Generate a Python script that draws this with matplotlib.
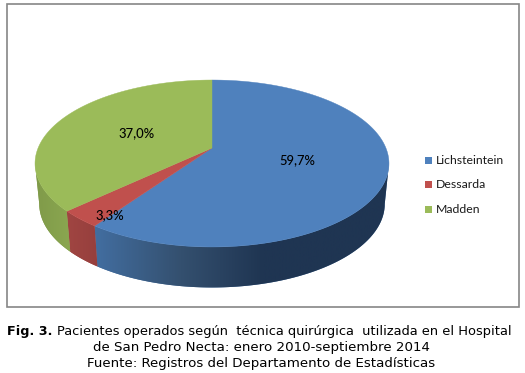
import numpy as np
import matplotlib
matplotlib.use('Agg')
import matplotlib.pyplot as plt
from matplotlib.colors import to_rgb
from matplotlib.patches import Polygon, Rectangle

categories = ['Lichsteintein', 'Dessarda', 'Madden']
values = [59.7, 3.3, 37.0]
value_labels = ['59,7%', '3,3%', '37,0%']
top_colors = ['#4F81BD', '#C0504D', '#9BBB59']
caption_lines = ['de San Pedro Necta: enero 2010-septiembre 2014',
                 'Fuente: Registros del Departamento de Estadísticas']

W, H = 525, 373
CX, CY = 212, 148   # where the slices meet, in picture pixels
A, B, K = 173.9, 80.6, 0.1856   # perspective of the disc
DEPTH, SHRINK = 40.5, 0.976


def rim(turn, r=1.0):
    # turn runs clockwise from 12 o'clock, 1 = full circle
    t = 2 * np.pi * np.asarray(turn)
    u, v = r * np.sin(t), -r * np.cos(t)
    d = 1 - K * v
    return CX + A * u / d, CY + B * v / d


fig = plt.figure(figsize=(W / 100, H / 100), dpi=100)
ax = fig.add_axes([0, 0, 1, 1])
ax.axis('off')

ax.add_patch(Rectangle((6.5, 3.5), 512, 303, fill=False, ec='#868686', lw=1.2))

fractions = np.array(values) / sum(values)
starts = np.concatenate([[0], np.cumsum(fractions)[:-1]])
ends = np.cumsum(fractions)

# side wall, only the part that faces the viewer
vis_right = np.arcsin(K) / (2 * np.pi) + 0.25
vis_left = 1 - vis_right
# (x, colour) stops of the shading along the wall
side_stops = [[(97, '#426D9F'), (180, '#34506F'), (262, '#1F3552'), (390, '#1F3552')],
              [(68, '#A04542'), (97, '#963F3D')],
              [(34, '#7F9A49'), (68, '#8AA650')]]
for i in range(len(values)):
    a, b = max(starts[i], vis_right), min(ends[i], vis_left)
    if b <= a:
        continue
    x, y = rim(np.linspace(a, b, 300))
    xb = CX + (x - CX) * SHRINK
    poly = Polygon(np.c_[np.r_[x, xb[::-1]], np.r_[y, y[::-1] + DEPTH]], closed=True,
                   transform=ax.transData, fc=side_stops[i][0][1], ec='none', zorder=2)
    ax.add_patch(poly)
    xs = [s[0] for s in side_stops[i]]
    rgb = np.array([to_rgb(s[1]) for s in side_stops[i]])
    x0, x1 = min(x.min(), xb.min()), max(x.max(), xb.max())
    grid = np.linspace(x0, x1, 400)
    band = np.stack([np.interp(grid, xs, rgb[:, c]) for c in range(3)], axis=1)[None, :, :]
    im = ax.imshow(band, extent=(x0, x1, H, 0), aspect='auto', zorder=2.5, interpolation='bilinear')
    im.set_clip_path(poly)

ax.set_xlim(0, W)
ax.set_ylim(H, 0)

# top of the disc
for i, c in enumerate(top_colors):
    x, y = rim(np.linspace(starts[i], ends[i], 300))
    ax.fill(np.r_[CX, x], np.r_[CY, y], color=c, lw=0.3, ec=c, zorder=3)

# value labels
label_font = ['Lato', 'DejaVu Sans']
lab_r = [0.5, 0.8, 0.49]
lab_dy = [0, 12, 0]
for i, lab in enumerate(value_labels):
    x, y = rim((starts[i] + ends[i]) / 2, lab_r[i])
    ax.text(x, y + lab_dy[i], lab, ha='center', va='center', fontsize=9.4, color='black',
            family=label_font, weight='medium', zorder=5)

# legend
for i, name in enumerate(categories):
    y = 160.7 + 24.2 * i
    ax.add_patch(Rectangle((425, y - 3.5), 7, 7, color=top_colors[i], lw=0, zorder=4))
    ax.text(436, y, name, va='center', ha='left', fontsize=8.8, family=label_font,
            color='#1a1a1a', zorder=5)

# caption
r = fig.canvas.get_renderer()
bold = ax.text(7, 331.5, 'Fig. 3.', fontsize=9.2, weight='bold', family='DejaVu Sans', va='center', color='black')
bw = bold.get_window_extent(r).width
ax.text(57, 331.5, 'Pacientes operados según  técnica quirúrgica  utilizada en el Hospital',
        fontsize=9.4, family='DejaVu Sans', va='center', color='black')
for j, line in enumerate(caption_lines):
    ax.text(261.5, 347.5 + 16.5 * j, line, fontsize=9.6, family='DejaVu Sans', ha='center', va='center', color='black')

fig.savefig('out.png', dpi=100)
